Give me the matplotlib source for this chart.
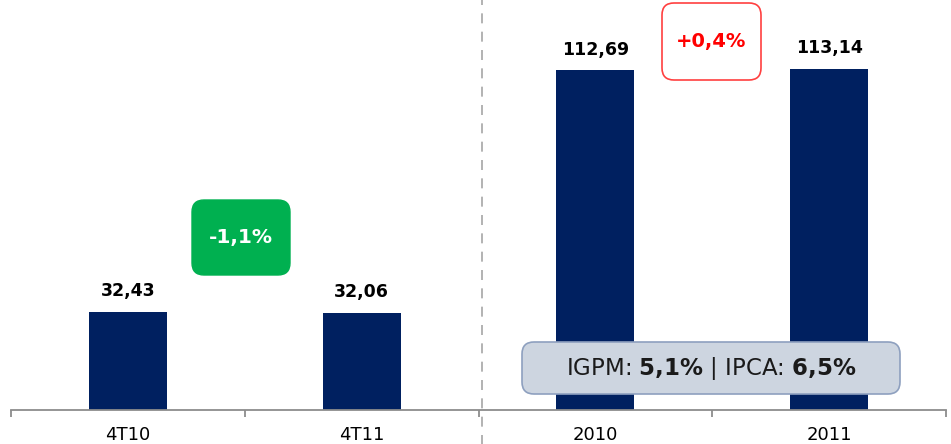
import matplotlib
matplotlib.use("AGG")
import matplotlib.pyplot as plt
from matplotlib.patches import FancyBboxPatch

categories = ["4T10", "4T11", "2010", "2011"]
values = [32.43, 32.06, 112.69, 113.14]
value_labels = ["32,43", "32,06", "112,69", "113,14"]
quarter_change = "-1,1%"
year_change = "+0,4%"

NAVY = "#002060"
plt.rcParams["font.family"] = ["DejaVu Sans"]

fig = plt.figure(figsize=(9.51, 4.44), dpi=100)
ax = fig.add_axes([11 / 951, 34.5 / 444, 935 / 951, 409.5 / 444])

x = range(len(categories))
ax.bar(x, values, width=0.333, color=NAVY, zorder=2)
ax.set_xlim(-0.5, 3.5)
ax.set_ylim(0, 136.1)

# value labels above bars
for xi, v, lab in zip(x, values, value_labels):
    ax.annotate(lab, (xi, v), xytext=(0, 15), textcoords="offset points",
                ha="center", va="center", fontsize=12.5, fontweight="bold")

# axis styling
for s in ["top", "right", "left"]:
    ax.spines[s].set_visible(False)
ax.spines["bottom"].set_color("#8c8c8c")
ax.spines["bottom"].set_linewidth(1.3)
ax.set_yticks([])
ax.set_xticks([-0.5, 0.5, 1.5, 2.5, 3.5])
ax.set_xticklabels([])
ax.tick_params(axis="x", which="major", length=5, color="#8c8c8c", width=1.3)
ax.set_xticks(list(x), minor=True)
ax.set_xticklabels(categories, minor=True, fontsize=13)
ax.tick_params(axis="x", which="minor", length=0, pad=12)

# dashed separator
ax.plot([1.515, 1.515], [-12, 136.1], ls=(0, (6, 5)), color="#a6a6a6",
        lw=1.2, clip_on=False, zorder=1)

def px_box(x0, y0, x1, y1, fc, ec, lw=1.0, r=12):
    # box in figure pixel coordinates (y from top)
    b = FancyBboxPatch((x0 / 951, 1 - y1 / 444), (x1 - x0) / 951, (y1 - y0) / 444,
                       boxstyle="round,pad=0,rounding_size=%f" % (r / 951),
                       transform=fig.transFigure, fc=fc, ec=ec, lw=lw,
                       mutation_aspect=951 / 444, zorder=5)
    fig.patches.append(b)
    return ((x0 + x1) / 2 / 951, 1 - (y0 + y1) / 2 / 444)

cx, cy = px_box(192, 200, 290, 275, "#00B050", "#00B050")
fig.text(cx, cy, quarter_change, ha="center", va="center", color="white",
         fontsize=14.5, fontweight="bold", zorder=6)

cx, cy = px_box(662, 3, 761, 80, "white", "#ff4040", lw=1.2)
fig.text(cx, cy, year_change, ha="center", va="center", color="#ff0000",
         fontsize=14, fontweight="bold", zorder=6)

cx, cy = px_box(522, 342, 900, 394, "#cdd5e0", "#8ea0bf", lw=1.2)
fig.text(cx, cy, "IGPM: $\\bf{5{,}1\\%}$ | IPCA: $\\bf{6{,}5\\%}$", ha="center",
         va="center", color="#1a1a1a", fontsize=16.5, zorder=6)

fig.savefig("out.png", dpi=100)
